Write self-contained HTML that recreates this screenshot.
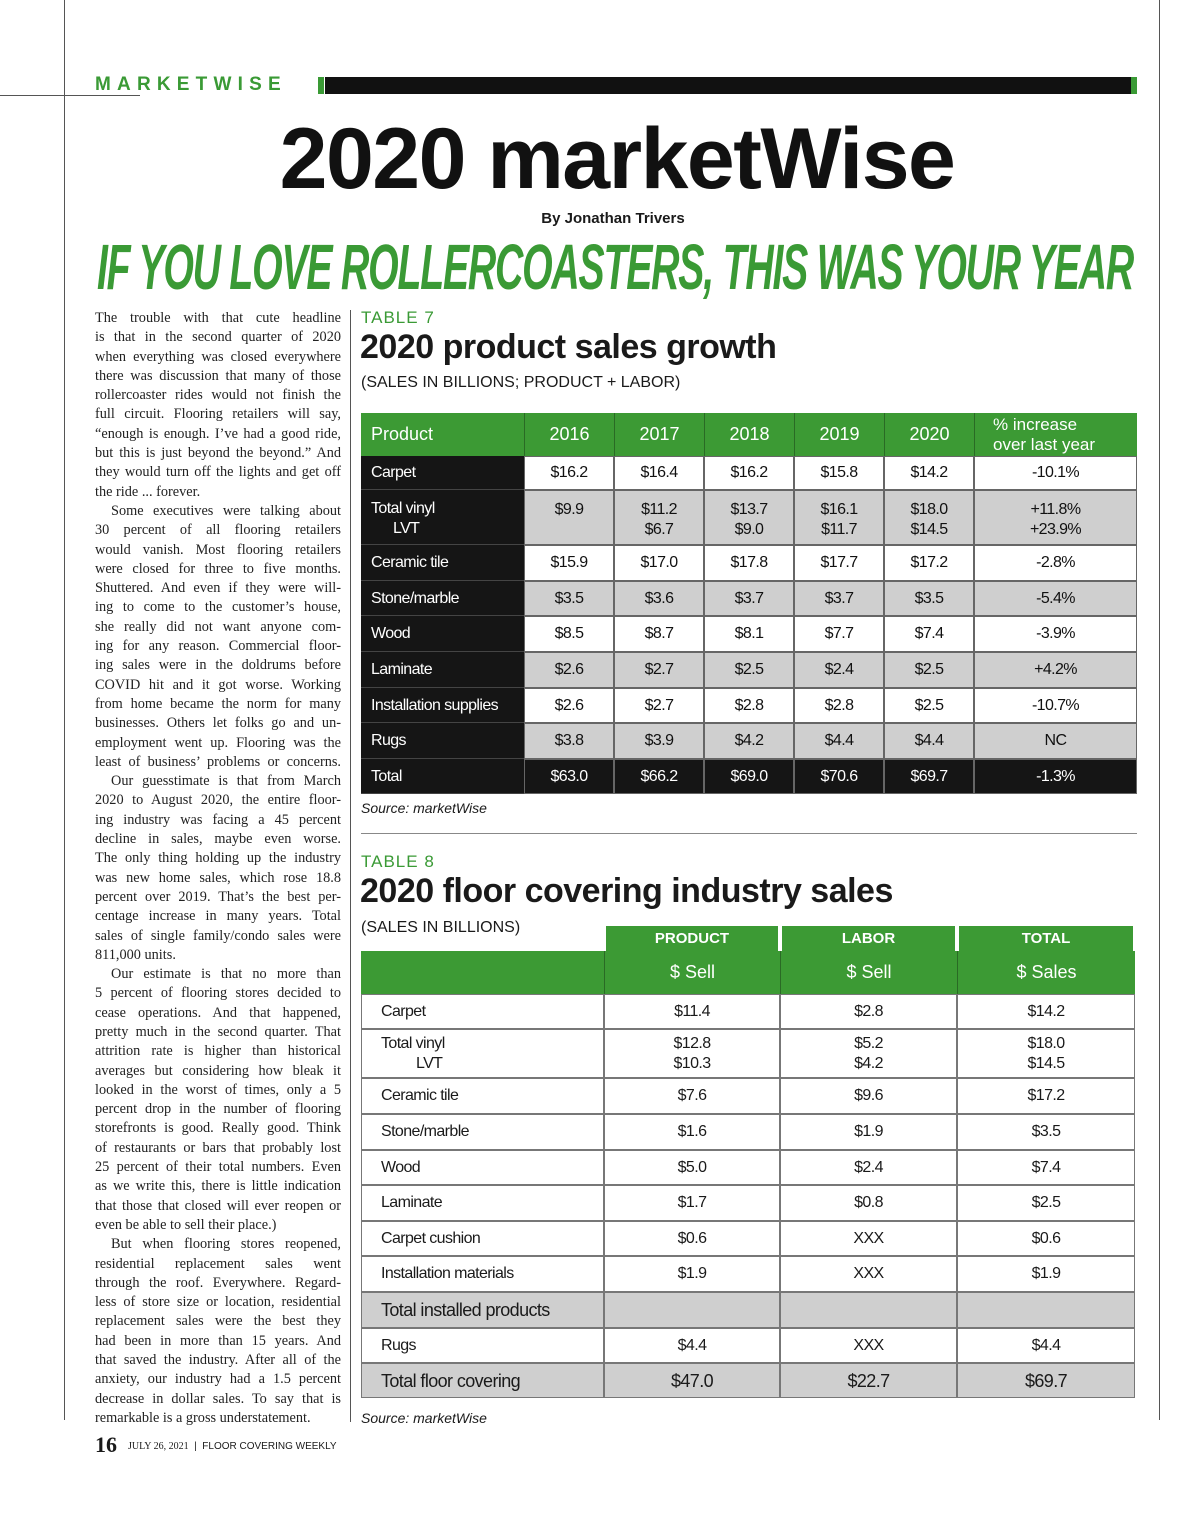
<!DOCTYPE html>
<html><head><meta charset="utf-8">
<style>
*{margin:0;padding:0;box-sizing:border-box}
body{width:1200px;height:1516px;position:relative;background:#fff;overflow:hidden;font-family:"Liberation Sans",sans-serif;color:#1a1a1a}
.abs{position:absolute}
.ln{position:absolute;background:#555}
#body-text{position:absolute;left:95px;top:309px;width:246px;font-family:"Liberation Serif",serif;font-size:14.3px;line-height:19.3px;color:#222}
#body-text div{text-align:justify;text-align-last:justify;white-space:nowrap;overflow:visible}
#body-text div.e{text-align-last:left}
#body-text div.i{text-indent:16px}
.cell{position:absolute;display:flex;align-items:center;font-size:16px;transform-origin:left center}
.c{justify-content:center;text-align:center}
</style></head><body>
<div class="ln" style="left:64px;top:0;width:1px;height:1420px"></div>
<div class="ln" style="left:1159px;top:0;width:1px;height:1420px"></div>
<div class="ln" style="left:0;top:95px;width:140px;height:1px"></div>
<div class="ln" style="left:350px;top:310px;width:1px;height:1112px"></div>
<div class="ln" style="left:361px;top:833px;width:776px;height:1px;background:#888"></div>

<div class="abs" style="left:95px;top:74px;font-size:19px;font-weight:bold;color:#3a9a35;letter-spacing:6.2px">MARKETWISE</div>
<div class="abs" style="left:318px;top:77px;width:6px;height:17px;background:#3a9a35"></div>
<div class="abs" style="left:325px;top:77px;width:806px;height:17px;background:#111"></div>
<div class="abs" style="left:1131px;top:77px;width:6px;height:17px;background:#3a9a35"></div>

<div class="abs" style="left:0;width:1234px;text-align:center;top:110px;font-size:86px;font-weight:bold;letter-spacing:-1.5px;color:#111">2020 marketWise</div>
<div class="abs" style="left:0;width:1226px;text-align:center;top:210px;font-size:15px;font-weight:bold">By Jonathan Trivers</div>
<div class="abs" id="headline" style="left:97px;top:230px;font-size:64px;font-weight:bold;font-style:italic;color:#3a9a35;white-space:nowrap;transform-origin:left top;letter-spacing:-2px">IF YOU LOVE ROLLERCOASTERS, THIS WAS YOUR YEAR</div>

<div id="body-text">
<div>The trouble with that cute headline</div>
<div>is that in the second quarter of 2020</div>
<div>when everything was closed everywhere</div>
<div>there was discussion that many of those</div>
<div>rollercoaster rides would not finish the</div>
<div>full circuit. Flooring retailers will say,</div>
<div>“enough is enough. I’ve had a good ride,</div>
<div>but this is just beyond the beyond.” And</div>
<div>they would turn off the lights and get off</div>
<div class="e">the ride ... forever.</div>
<div class="i">Some executives were talking about</div>
<div>30 percent of all flooring retailers</div>
<div>would vanish. Most flooring retailers</div>
<div>were closed for three to five months.</div>
<div>Shuttered. And even if they were will-</div>
<div>ing to come to the customer’s house,</div>
<div>she really did not want anyone com-</div>
<div>ing for any reason. Commercial floor-</div>
<div>ing sales were in the doldrums before</div>
<div>COVID hit and it got worse. Working</div>
<div>from home became the norm for many</div>
<div>businesses. Others let folks go and un-</div>
<div>employment went up. Flooring was the</div>
<div>least of business’ problems or concerns.</div>
<div class="i">Our guesstimate is that from March</div>
<div>2020 to August 2020, the entire floor-</div>
<div>ing industry was facing a 45 percent</div>
<div>decline in sales, maybe even worse.</div>
<div>The only thing holding up the industry</div>
<div>was new home sales, which rose 18.8</div>
<div>percent over 2019. That’s the best per-</div>
<div>centage increase in many years. Total</div>
<div>sales of single family/condo sales were</div>
<div class="e">811,000 units.</div>
<div class="i">Our estimate is that no more than</div>
<div>5 percent of flooring stores decided to</div>
<div>cease operations. And that happened,</div>
<div>pretty much in the second quarter. That</div>
<div>attrition rate is higher than historical</div>
<div>averages but considering how bleak it</div>
<div>looked in the worst of times, only a 5</div>
<div>percent drop in the number of flooring</div>
<div>storefronts is good. Really good. Think</div>
<div>of restaurants or bars that probably lost</div>
<div>25 percent of their total numbers. Even</div>
<div>as we write this, there is little indication</div>
<div>that those that closed will ever reopen or</div>
<div class="e">even be able to sell their place.)</div>
<div class="i">But when flooring stores reopened,</div>
<div>residential replacement sales went</div>
<div>through the roof. Everywhere. Regard-</div>
<div>less of store size or location, residential</div>
<div>replacement sales were the best they</div>
<div>had been in more than 15 years. And</div>
<div>that saved the industry. After all of the</div>
<div>anxiety, our industry had a 1.5 percent</div>
<div>decrease in dollar sales. To say that is</div>
<div class="e">remarkable is a gross understatement.</div>
</div>

<div class="abs" style="left:95px;top:1432px;font-family:'Liberation Serif',serif;font-weight:bold;font-size:22px">16</div>
<div class="abs" style="left:128px;top:1441px;font-size:10px;white-space:nowrap"><span style="font-family:'Liberation Serif',serif">JULY 26, 2021</span> &nbsp;|&nbsp; FLOOR COVERING WEEKLY</div>

<div class="abs" style="left:361px;top:308px;font-size:17px;color:#3a9a35;letter-spacing:1px">TABLE 7</div>
<div class="abs" style="left:360px;top:328px;font-size:34px;font-weight:bold;letter-spacing:-0.5px">2020 product sales growth</div>
<div class="abs" style="left:361px;top:374px;font-size:16px">(SALES IN BILLIONS; PRODUCT + LABOR)</div>
<div class="abs" style="left:361px;top:800px;font-size:14px;font-style:italic">Source: marketWise</div>

<div class="abs" style="left:361px;top:852px;font-size:17px;color:#3a9a35;letter-spacing:1px">TABLE 8</div>
<div class="abs" style="left:360px;top:872px;font-size:34px;font-weight:bold;letter-spacing:-0.5px">2020 floor covering industry sales</div>
<div class="abs" style="left:361px;top:919px;font-size:16px">(SALES IN BILLIONS)</div>
<div class="abs" style="left:361px;top:1410px;font-size:14px;font-style:italic">Source: marketWise</div>

<div id="t7"></div>
<div id="t8"></div>

<script>
// Table 7 data
const t7Years = ["2016","2017","2018","2019","2020"];
const t7Products = ["Carpet","Total vinyl","Ceramic tile","Stone/marble","Wood","Laminate","Installation supplies","Rugs","Total"];
const t7Sub = ["","LVT","","","","","","",""];
const t7Values = [
 ["$16.2","$16.4","$16.2","$15.8","$14.2"],
 ["$9.9","$11.2","$13.7","$16.1","$18.0"],
 ["$15.9","$17.0","$17.8","$17.7","$17.2"],
 ["$3.5","$3.6","$3.7","$3.7","$3.5"],
 ["$8.5","$8.7","$8.1","$7.7","$7.4"],
 ["$2.6","$2.7","$2.5","$2.4","$2.5"],
 ["$2.6","$2.7","$2.8","$2.8","$2.5"],
 ["$3.8","$3.9","$4.2","$4.4","$4.4"],
 ["$63.0","$66.2","$69.0","$70.6","$69.7"]
];
const t7LvtValues = ["","$6.7","$9.0","$11.7","$14.5"];
const t7Pct = ["-10.1%","+11.8%","-2.8%","-5.4%","-3.9%","+4.2%","-10.7%","NC","-1.3%"];
const t7LvtPct = "+23.9%";

// Table 8 data
const t8Groups = ["PRODUCT","LABOR","TOTAL"];
const t8Heads = ["$ Sell","$ Sell","$ Sales"];
const t8Products = ["Carpet","Total vinyl","Ceramic tile","Stone/marble","Wood","Laminate","Carpet cushion","Installation materials","Total installed  products","Rugs","Total floor covering"];
const t8Product = ["$11.4","$12.8","$7.6","$1.6","$5.0","$1.7","$0.6","$1.9","","$4.4","$47.0"];
const t8Labor = ["$2.8","$5.2","$9.6","$1.9","$2.4","$0.8","XXX","XXX","","XXX","$22.7"];
const t8Total = ["$14.2","$18.0","$17.2","$3.5","$7.4","$2.5","$0.6","$1.9","","$4.4","$69.7"];
const t8Lvt = ["$10.3","$4.2","$14.5"];

function box(parent,x,y,w,h,bg,txt,cls,name,style){
  const d=document.createElement('div');
  d.className='cell '+(cls||'');
  d.style.left=x+'px';d.style.top=y+'px';d.style.width=w+'px';d.style.height=h+'px';
  if(bg)d.style.background=bg;
  if(style)Object.assign(d.style,style);
  d.innerHTML='<div>'+txt+'</div>';
  
  
  parent.appendChild(d);return d;
}
const G='#3c9a34', GR='#cfcfcf', BK='#151515';
const cond={letterSpacing:'-0.6px'};

// Table 7
(function(){
  const p=document.getElementById('t7');
  const xs=[361,524,614,704,794,884,974,1137];
  const ys=[413,456,490,545,581,616,652,688,723,759,794];
  box(p,xs[0],ys[0],xs[7]-xs[0],ys[1]-ys[0],G,'','', 'table7-header-bg');
  box(p,xs[0]+10,ys[0],150,ys[1]-ys[0],null,'Product','', 'table7-header-product',{color:'#fff',fontSize:'18px'});
  t7Years.forEach((yr,i)=>{
    box(p,xs[i+1],ys[0],xs[i+2]-xs[i+1],ys[1]-ys[0],null,yr,'c','table7-header-'+yr,{color:'#fff',fontSize:'18px',borderLeft:'1px solid #2a6a25'});
  });
  box(p,xs[6],ys[0],xs[7]-xs[6],ys[1]-ys[0],null,'% increase<br>over last year','','table7-header-pct',{color:'#fff',fontSize:'17px',lineHeight:'20px',paddingLeft:'18px',borderLeft:'1px solid #2a6a25'});
  t7Products.forEach((prod,r)=>{
    const y=ys[r+1], h=ys[r+2]-ys[r+1];
    const isTotal=r===t7Products.length-1;
    const bg=isTotal?BK:(r%2===1?GR:'#fff');
    const col=isTotal?'#fff':'#111';
    const two=t7Sub[r]!=='';
    const top={alignItems:two?'flex-start':'center',paddingTop:two?'9px':'0',lineHeight:'20px'};
    box(p,xs[0],y,xs[1]-xs[0],h,BK,'','', 'table7-label-bg-'+r,{borderBottom:'1px solid #444'});
    box(p,xs[0]+10,y,150,h,null,two?prod+'<br><span style="padding-left:22px">'+t7Sub[r]+'</span>':prod,'', 'table7-row-label',{color:'#fff',...top,...cond});
    for(let c=0;c<5;c++){
      const v=t7Values[r][c]+(two&&t7LvtValues[c]?'<br>'+t7LvtValues[c]:'');
      box(p,xs[c+1],y,xs[c+2]-xs[c+1],h,bg,v,'c','table7-cell',{color:col,...top,border:'0.5px solid #666',...cond});
    }
    box(p,xs[6],y,xs[7]-xs[6],h,bg,t7Pct[r]+(two?'<br>'+t7LvtPct:''),'c','table7-pct-cell',{color:col,...top,border:'0.5px solid #666',...cond});
  });
})();

// Table 8
(function(){
  const p=document.getElementById('t8');
  const xs=[361,604,780,957,1135];
  const ys=[994,1029,1078,1114,1150,1185,1221,1256,1292,1328,1363,1398];
  const gx=[[606,778],[782,955],[959,1133]];
  t8Groups.forEach((g,i)=>box(p,gx[i][0],926,gx[i][1]-gx[i][0],25,G,g,'c','table8-group-'+g.toLowerCase(),{color:'#fff',fontWeight:'bold',fontSize:'15px'}));
  box(p,xs[0],951,xs[4]-xs[0],43,G,'','', 'table8-header-bg');
  t8Heads.forEach((h,i)=>box(p,xs[i+1],951,xs[i+2]-xs[i+1],43,null,h,'c','table8-header-cell',{color:'#fff',fontSize:'18px',borderLeft:'1px solid #2a6a25'}));
  const cols=[t8Product,t8Labor,t8Total];
  t8Products.forEach((prod,r)=>{
    const y=ys[r],h=ys[r+1]-ys[r];
    const gray=(r===8||r===10);
    const bg=gray?GR:'#fff';
    const two=r===1;
    const fs=gray?'18px':'16px';
    box(p,xs[0],y,xs[1]-xs[0],h,bg,two?prod+'<br><span style="padding-left:35px">LVT</span>':prod,'','table8-row-label',{paddingLeft:'19px',border:'0.5px solid #777',lineHeight:'20px',fontSize:fs,...cond});
    cols.forEach((arr,c)=>{
      box(p,xs[c+1],y,xs[c+2]-xs[c+1],h,bg,arr[r]+(two?'<br>'+t8Lvt[c]:''),'c','table8-cell',{border:'0.5px solid #777',lineHeight:'20px',fontSize:fs,...cond});
    });
  });
})();

(function(){
  const h=document.getElementById('headline');
  const w=h.getBoundingClientRect().width;
  h.style.transform='scaleX('+(1036/w)+')';
})();
</script>
</body></html>
